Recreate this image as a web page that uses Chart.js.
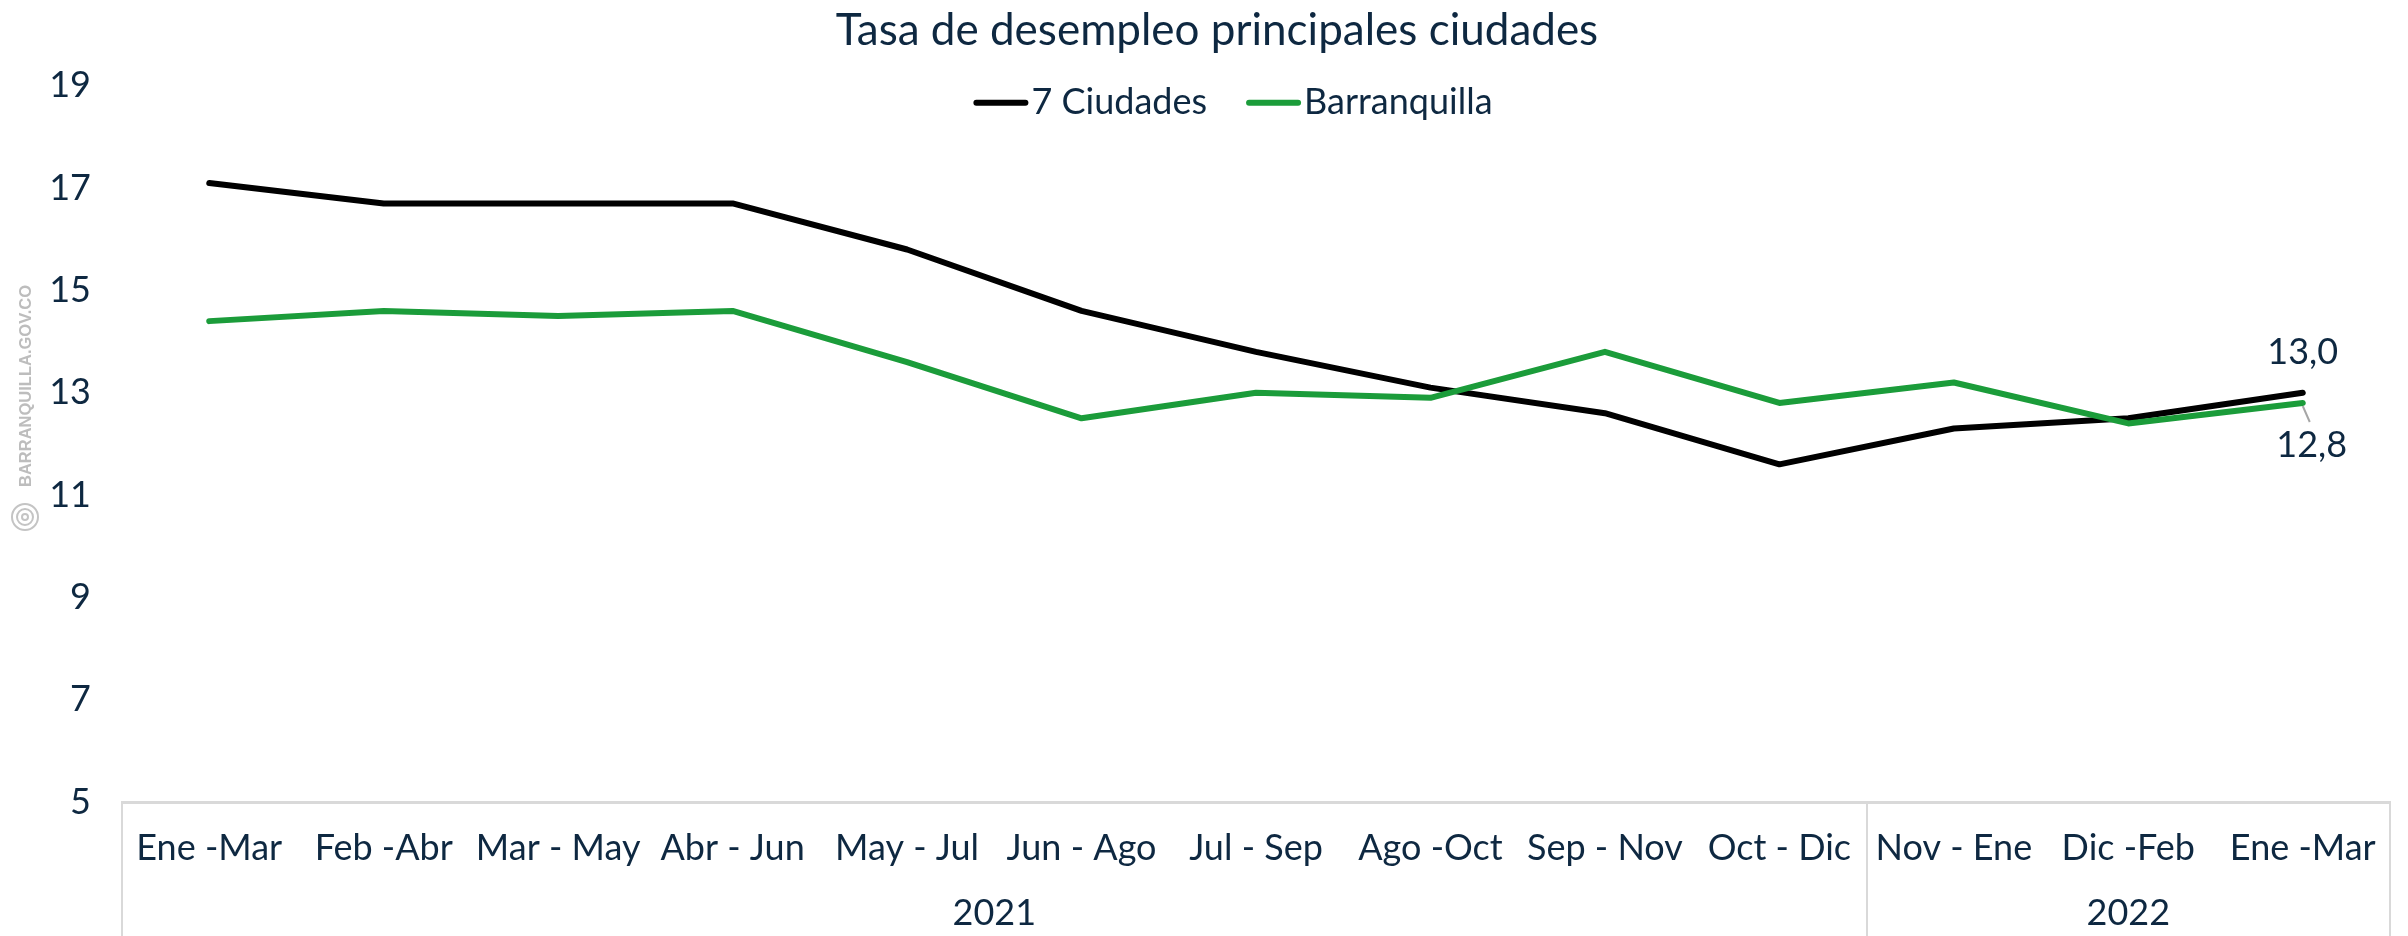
<!DOCTYPE html>
<html lang="es">
<head>
<meta charset="utf-8">
<title>Tasa de desempleo principales ciudades</title>
<script src="https://cdn.jsdelivr.net/npm/chart.js@4.4.1/dist/chart.umd.min.js"></script>
<style>
  html, body { margin: 0; padding: 0; background: #fff; }
  #wrap { position: relative; width: 2408px; height: 936px; }
</style>
</head>
<body>
<div id="wrap"><canvas id="desempleoChart" width="2408" height="936"></canvas></div>
<script>
// --- 1. DATA ---
const categories = ['Ene -Mar', 'Feb -Abr', 'Mar - May', 'Abr - Jun', 'May - Jul', 'Jun - Ago',
    'Jul - Sep', 'Ago -Oct', 'Sep - Nov', 'Oct - Dic', 'Nov - Ene', 'Dic -Feb', 'Ene -Mar'];
const sieteCiudades = [17.1, 16.7, 16.7, 16.7, 15.8, 14.6, 13.8, 13.1, 12.6, 11.6, 12.3, 12.5, 13.0];
const barranquilla = [14.4, 14.6, 14.5, 14.6, 13.6, 12.5, 13.0, 12.9, 13.8, 12.8, 13.2, 12.4, 12.8];
const years = ['2021', '2022'];
const periodsPerYear = [10, 3];
const yTicks = [5, 7, 9, 11, 13, 15, 17, 19];

// --- 2. STYLE ---
const NAVY = '#0e2841';
const GREEN = '#1b9c3a';
const FONT = 'Lato, "Open Sans", sans-serif';
const fmt = v => v.toFixed(1).replace('.', ',');

// Year groups under the category labels, with separators
const yearGroups = {
    id: 'yearGroups',
    afterDraw(chart) {
        const x = chart.scales.x;
        const ctx = chart.ctx;
        ctx.save();
        ctx.strokeStyle = '#d9d9d9';
        ctx.lineWidth = 2;
        ctx.fillStyle = NAVY;
        ctx.font = `36px ${FONT}`;
        ctx.textAlign = 'center';
        ctx.textBaseline = 'middle';
        let start = 0;
        periodsPerYear.forEach((n, i) => {
            const left = x.getPixelForValue(start - 0.5);
            const right = x.getPixelForValue(start + n - 0.5);
            [left, right].forEach(px => {
                ctx.beginPath();
                ctx.moveTo(Math.round(px), x.top);
                ctx.lineTo(Math.round(px), x.bottom);
                ctx.stroke();
            });
            ctx.fillText(years[i], (left + right) / 2, x.bottom - 23);
            start += n;
        });
        ctx.restore();
    }
};

// Legend: short line + label, almost no gap
const lineLegend = {
    id: 'lineLegend',
    afterDraw(chart) {
        const ctx = chart.ctx;
        const sets = chart.data.datasets;
        const lineLen = 55, gap = 3, itemGap = 39;
        ctx.save();
        ctx.font = `36px ${FONT}`;
        const widths = sets.map(ds => lineLen + gap + ctx.measureText(ds.label).width);
        const total = widths.reduce((a, b) => a + b, 0) + itemGap * (sets.length - 1);
        let x = 1233 - total / 2;
        const y = chart.chartArea.top + 17;
        sets.forEach((ds, i) => {
            ctx.strokeStyle = ds.borderColor;
            ctx.lineWidth = ds.borderWidth;
            ctx.lineCap = 'round';
            ctx.beginPath();
            ctx.moveTo(x + 3, y);
            ctx.lineTo(x + lineLen - 3, y);
            ctx.stroke();
            ctx.fillStyle = NAVY;
            ctx.textAlign = 'left';
            ctx.textBaseline = 'middle';
            ctx.fillText(ds.label, x + lineLen + gap, y);
            x += widths[i] + itemGap;
        });
        ctx.restore();
    }
};

// Value labels on the last period
const endLabels = {
    id: 'endLabels',
    afterDatasetsDraw(chart) {
        const ctx = chart.ctx;
        const last = categories.length - 1;
        const p0 = chart.getDatasetMeta(0).data[last];
        const p1 = chart.getDatasetMeta(1).data[last];
        ctx.save();
        ctx.strokeStyle = '#a6a6a6';
        ctx.lineWidth = 2;
        ctx.beginPath();
        ctx.moveTo(p1.x, p1.y + 3);
        ctx.lineTo(p1.x + 7, p1.y + 19);
        ctx.stroke();
        ctx.fillStyle = NAVY;
        ctx.font = `36px ${FONT}`;
        ctx.textAlign = 'center';
        ctx.textBaseline = 'middle';
        ctx.fillText(fmt(sieteCiudades[last]), p0.x, p0.y - 40);
        ctx.fillText(fmt(barranquilla[last]), p1.x + 9, p1.y + 42);
        ctx.restore();
    }
};

// Site watermark on the left edge
const watermark = {
    id: 'watermark',
    afterDraw(chart) {
        const ctx = chart.ctx;
        ctx.save();
        ctx.translate(26, 386);
        ctx.rotate(-Math.PI / 2);
        ctx.fillStyle = '#bdbdbd';
        ctx.font = 'bold 16.5px "Liberation Sans", Arial, sans-serif';
        ctx.textAlign = 'center';
        ctx.textBaseline = 'middle';
        ctx.fillText('BARRANQUILLA.GOV.CO', 0, 0);
        ctx.restore();
        ctx.save();
        ctx.strokeStyle = '#c4c4c4';
        ctx.lineWidth = 2;
        [13, 8, 3].forEach(r => {
            ctx.beginPath();
            ctx.arc(25, 517, r, 0, Math.PI * 2);
            ctx.stroke();
        });
        ctx.restore();
    }
};

// --- 3. CHART ---
document.addEventListener('DOMContentLoaded', () => {
    const ctx = document.getElementById('desempleoChart').getContext('2d');
    new Chart(ctx, {
        type: 'line',
        data: {
            labels: categories,
            datasets: [{
                label: '7 Ciudades',
                data: sieteCiudades,
                borderColor: '#000000',
                backgroundColor: '#000000',
                borderWidth: 6,
                pointRadius: 0,
                tension: 0,
                borderJoinStyle: 'round',
                borderCapStyle: 'round',
                order: 1
            }, {
                label: 'Barranquilla',
                data: barranquilla,
                borderColor: GREEN,
                backgroundColor: GREEN,
                borderWidth: 6,
                pointRadius: 0,
                tension: 0,
                borderJoinStyle: 'round',
                borderCapStyle: 'round',
                order: 0
            }]
        },
        options: {
            responsive: false,
            animation: false,
            layout: { padding: { left: 44, right: 18, top: 0, bottom: 0 } },
            plugins: {
                legend: { display: false },
                tooltip: { enabled: false },
                title: {
                    display: true,
                    text: 'Tasa de desempleo principales ciudades',
                    color: NAVY,
                    font: { family: FONT, size: 44, weight: 'normal' },
                    padding: { top: 4, bottom: 29 }
                }
            },
            scales: {
                x: {
                    offset: true,
                    grid: { display: false },
                    border: { display: true, color: '#d9d9d9', width: 3 },
                    ticks: {
                        color: NAVY,
                        font: { family: FONT, size: 36 },
                        padding: 17,
                        maxRotation: 0,
                        autoSkip: false
                    },
                    afterFit: scale => { scale.height = 134; }
                },
                y: {
                    min: yTicks[0],
                    max: yTicks[yTicks.length - 1],
                    grid: { display: false, drawTicks: false },
                    border: { display: false },
                    ticks: {
                        stepSize: yTicks[1] - yTicks[0],
                        color: NAVY,
                        font: { family: FONT, size: 36 },
                        padding: 31
                    },
                    afterFit: scale => { scale.width = 78; }
                }
            }
        },
        plugins: [yearGroups, lineLegend, endLabels, watermark]
    });
});
</script>
</body>
</html>
